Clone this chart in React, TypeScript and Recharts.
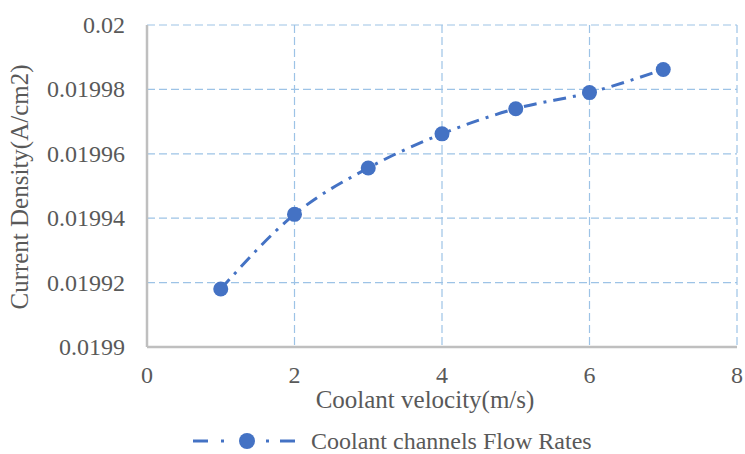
import React from 'react';
import { LineChart, Line, XAxis, YAxis, CartesianGrid, Legend } from 'recharts';

const velocities = [1, 2, 3, 4, 5, 6, 7];
const currentDensity = [0.019918, 0.0199412, 0.0199556, 0.0199662, 0.019974, 0.019979, 0.0199862];
const xTicks = [0, 2, 4, 6, 8];
const yTicks = [0.0199, 0.01992, 0.01994, 0.01996, 0.01998, 0.02];
const seriesName = 'Coolant channels Flow Rates';
const xLabel = 'Coolant velocity(m/s)';
const yLabel = 'Current Density(A/cm2)';

const data = velocities.map((v, i) => ({ v, d: currentDensity[i] }));

const BLUE = '#4472C4';
const GRID = '#9DC3E6';
const AXIS = '#BFBFBF';
const TEXT = '#595959';
const FONT = 'Times New Roman';
const FS = 24;
const DASH = '13 7 3 7';

const renderLegend = (props: any) => {
  const { payload } = props;
  return (
    <div style={{ display: 'flex', justifyContent: 'flex-start', alignItems: 'center', paddingLeft: 193, marginTop: 12, height: 24, fontFamily: FONT, fontSize: FS, color: TEXT, lineHeight: '24px' }}>
      {(payload || []).map((p: any, i: number) => (
        <div key={i} style={{ display: 'flex', alignItems: 'center', height: 24 }}>
          <svg width={102} height={20} style={{ marginRight: 16 }}>
            <line x1={0} y1={10} x2={15} y2={10} stroke={p.color} strokeWidth={3} />
            <line x1={28} y1={10} x2={31} y2={10} stroke={p.color} strokeWidth={3} />
            <circle cx={54} cy={10} r={8} fill={p.color} />
            <line x1={73} y1={10} x2={76} y2={10} stroke={p.color} strokeWidth={3} />
            <line x1={87} y1={10} x2={102} y2={10} stroke={p.color} strokeWidth={3} />
          </svg>
          <span style={{ whiteSpace: 'nowrap' }}>{p.value}</span>
        </div>
      ))}
    </div>
  );
};

const XTick = (props: any) => (
  <text x={props.x} y={props.y} dy={17} textAnchor="middle" fill={TEXT} fontSize={FS} fontFamily={FONT}>
    {props.payload.value}
  </text>
);

const YTick = (props: any) => (
  <text x={props.x} y={props.y} dy={8} textAnchor="end" fill={TEXT} fontSize={FS} fontFamily={FONT}>
    {props.payload.value}
  </text>
);

export default function App() {
  return (
    <div style={{ position: 'absolute', left: 0, top: 0, background: '#fff' }}>
      <LineChart width={745} height={454} data={data} margin={{ top: 25, right: 8, left: 0, bottom: 0 }}>
        <CartesianGrid stroke={GRID} strokeDasharray="8 4" strokeWidth={1.2} />
        <XAxis
          dataKey="v"
          type="number"
          domain={[0, 8]}
          ticks={xTicks}
          height={70}
          tickLine={false}
          tickSize={0}
          tickMargin={19}
          axisLine={{ stroke: AXIS, strokeWidth: 2.5 }}
          tick={XTick}
          label={{
            content: (p: any) => {
              const vb = p.viewBox;
              return (
                <text x={vb.x + vb.width / 2 - 17} y={vb.y + 61} textAnchor="middle" fill={TEXT} fontSize={25} fontFamily={FONT}>
                  {xLabel}
                </text>
              );
            },
          }}
        />
        <YAxis
          type="number"
          domain={[0.0199, 0.02]}
          ticks={yTicks}
          width={147}
          tickLine={false}
          tickSize={0}
          tickMargin={22}
          axisLine={{ stroke: AXIS, strokeWidth: 2.5 }}
          tick={YTick}
          allowDataOverflow
          label={{
            content: (p: any) => {
              const vb = p.viewBox;
              const cx = 28;
              const cy = vb.y + vb.height / 2 + 1;
              return (
                <text x={cx} y={cy} transform={`rotate(-90 ${cx} ${cy})`} textAnchor="middle" fill={TEXT} fontSize={25} fontFamily={FONT}>
                  {yLabel}
                </text>
              );
            },
          }}
        />
        <Legend verticalAlign="bottom" height={37} content={renderLegend} />
        <Line
          name={seriesName}
          dataKey="d"
          type="monotone"
          stroke={BLUE}
          strokeWidth={3}
          strokeDasharray={DASH}
          dot={{ r: 7.5, fill: BLUE, stroke: BLUE, strokeWidth: 0 }}
          activeDot={false}
          isAnimationActive={false}
        />
      </LineChart>
    </div>
  );
}
